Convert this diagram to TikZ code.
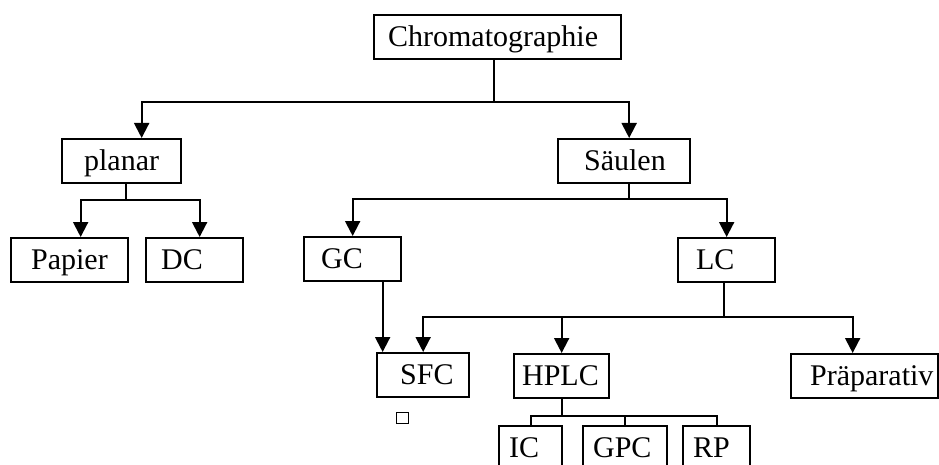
\documentclass[tikz,border=0pt]{standalone}
\usepackage{fontspec}
\setmainfont{Liberation Serif}
\usetikzlibrary{arrows.meta}

\tikzset{
  box/.style={draw, line width=2.3pt, anchor=north west, inner xsep=0pt, inner ysep=0pt,
    text height=31pt, text depth=13pt, align=left, font=\fontsize{30}{30}\selectfont},
  pad/.style={execute at begin node={\noindent\hspace*{#1pt}}},
  link/.style={line width=2pt},
  arr/.style={link, -{Triangle[length=15pt,width=15pt]}},
}

\begin{document}
\begin{tikzpicture}[x=1pt, y=-1pt]
  \useasboundingbox (0,0) rectangle (939,465);
  \clip (0,0) rectangle (939,465);

  % Level 0
  \node[box, text width=247pt, pad=14] (chrom) at (373,14) {Chromatographie};

  % Level 1
  \node[box, text width=119pt, pad=22] (planar) at (61,138) {planar};
  \node[box, text width=132pt, pad=26] (saeulen) at (557,138) {Säulen};
  \draw[link] ([xshift=-4pt]chrom.south) -- ++(0,42) coordinate (j0);
  \draw[arr] (j0) -| ([xshift=20pt]planar.north);
  \draw[arr] (j0) -| ([xshift=5pt]saeulen.north);

  % Level 2
  \node[box, text width=117pt, pad=20] (papier) at (10,237) {Papier};
  \node[box, text width=97pt, pad=15] (dc) at (145,237) {DC};
  \node[box, text width=97pt, pad=17] (gc) at (303,236) {GC};
  \node[box, text width=97pt, pad=18] (lc) at (677,237) {LC};
  \draw[link] ([xshift=4pt]planar.south) -- ++(0,16) coordinate (j1);
  \draw[arr] (j1) -| ([xshift=11pt]papier.north);
  \draw[arr] (j1) -| ([xshift=5pt]dc.north);
  \draw[link] ([xshift=5pt]saeulen.south) -- ++(0,15) coordinate (j2);
  \draw[arr] (j2) -| (gc.north);
  \draw[arr] (j2) -| (lc.north);

  % Level 3
  \node[box, text width=92pt, pad=23] (sfc) at (376,352) {SFC};
  \node[box, text width=95pt, pad=8] (hplc) at (513,353) {HPLC};
  \node[box, text width=147pt, pad=19] (praep) at (790,353) {Präparativ};
  \draw[arr] ([xshift=30pt]gc.south) -- ([xshift=30pt]gc.south |- sfc.north);
  \draw[link] ([xshift=-3pt]lc.south) -- ++(0,34) coordinate (j3);
  \draw[arr] (j3) -| (sfc.north);
  \draw[arr] (j3) -| (hplc.north);
  \draw[arr] (j3) -| ([xshift=-12pt]praep.north);

  % Level 4
  \node[box, text width=63pt, pad=10] (ic) at (498,425) {IC};
  \node[box, text width=84pt, pad=10] (gpc) at (582,425) {GPC};
  \node[box, text width=67pt, pad=10] (rp) at (682,425) {RP};
  \draw[link] (hplc.south) -- ++(0,17) coordinate (j4);
  \draw[link] (j4) -| (ic.north);
  \draw[link] (j4) -| (gpc.north);
  \draw[link] (j4) -| (rp.north);

  % small square below SFC
  \draw[line width=1pt] (396,412) rectangle (408,423);
\end{tikzpicture}
\end{document}
